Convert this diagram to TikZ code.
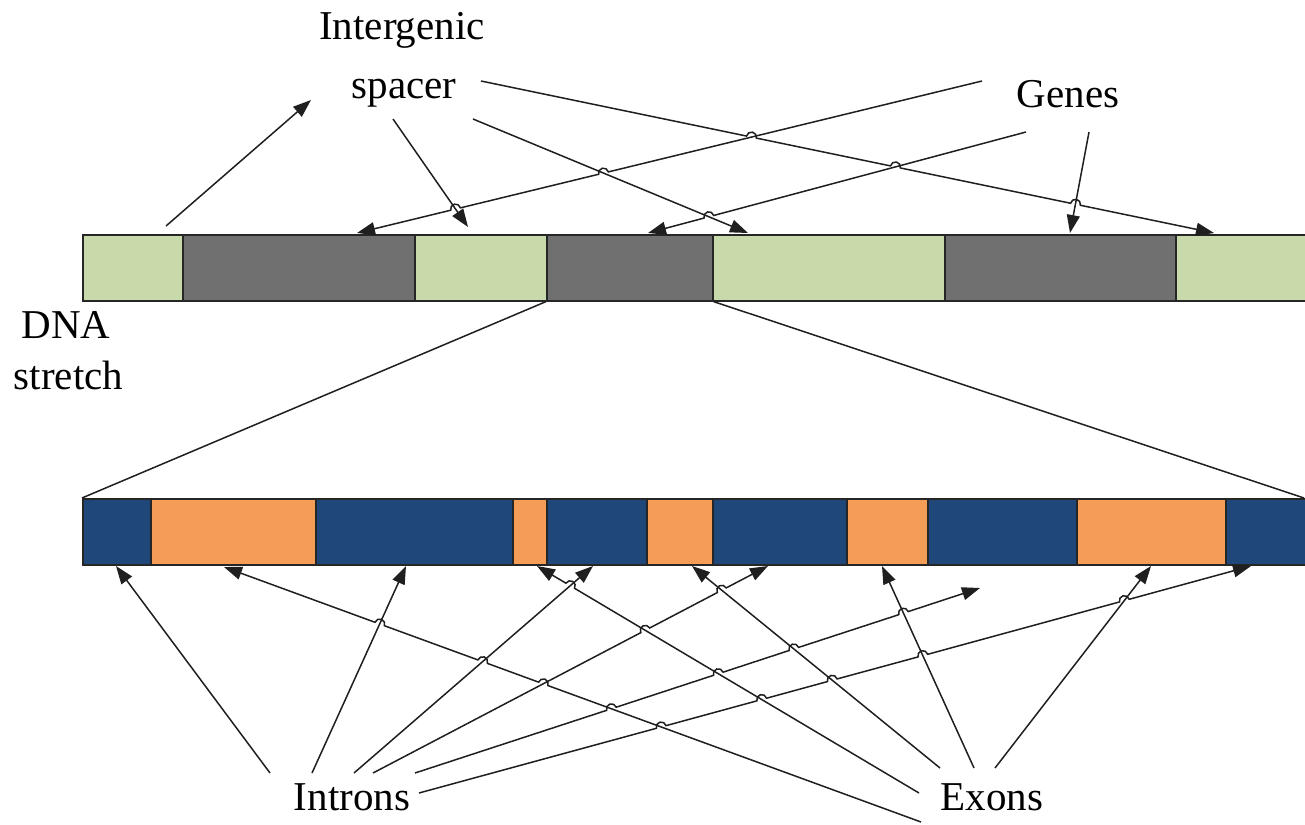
\documentclass[tikz,border=0pt]{standalone}
\usepackage{fontspec}
\setmainfont{Liberation Serif}
\usetikzlibrary{calc,arrows.meta}
\definecolor{lgreen}{RGB}{200,218,170}
\definecolor{dgray}{RGB}{112,112,112}
\definecolor{dblue}{RGB}{31,71,122}
\definecolor{lorange}{RGB}{243,157,87}
\def\hr{5pt}
\begin{document}
\begin{tikzpicture}[x=1pt,y=1pt,
  lbl/.style={font=\fontsize{41}{48}\selectfont, inner sep=0pt, anchor=base},
  seg/.style={draw=black!85, line width=1.6pt, inner sep=0pt, minimum height=66pt, anchor=north west},
  conn/.style={line width=1.5pt, draw=black!88},
  tip/.style={-{Triangle[length=18pt,width=13pt]}},
  rtip/.style={{Triangle[length=18pt,width=13pt]}-}]
\useasboundingbox (0,0) rectangle (1305,-824);

% ---------- top bar ----------
\node[seg, fill=lgreen, minimum width=100pt] (t1) at (82,-234) {};
\node[seg, fill=dgray,  minimum width=232pt] (t2) at (182,-234) {};
\node[seg, fill=lgreen, minimum width=132pt] (t3) at (414,-234) {};
\node[seg, fill=dgray,  minimum width=166pt] (t4) at (546,-234) {};
\node[seg, fill=lgreen, minimum width=232pt] (t5) at (712,-234) {};
\node[seg, fill=dgray,  minimum width=231pt] (t6) at (944,-234) {};
\node[seg, fill=lgreen, minimum width=132pt] (t7) at (1175,-234) {};

% ---------- bottom bar ----------
\node[seg, fill=dblue,   minimum width=68pt]  (b1)  at (82,-498) {};
\node[seg, fill=lorange, minimum width=165pt] (b2)  at (150,-498) {};
\node[seg, fill=dblue,   minimum width=197pt] (b3)  at (315,-498) {};
\node[seg, fill=lorange, minimum width=34pt]  (b4)  at (512,-498) {};
\node[seg, fill=dblue,   minimum width=100pt] (b5)  at (546,-498) {};
\node[seg, fill=lorange, minimum width=66pt]  (b6)  at (646,-498) {};
\node[seg, fill=dblue,   minimum width=134pt] (b7)  at (712,-498) {};
\node[seg, fill=lorange, minimum width=81pt]  (b8)  at (846,-498) {};
\node[seg, fill=dblue,   minimum width=149pt] (b9)  at (927,-498) {};
\node[seg, fill=lorange, minimum width=149pt] (b10) at (1076,-498) {};
\node[seg, fill=dblue,   minimum width=82pt]  (b11) at (1225,-498) {};

% zoom lines
\coordinate (zr) at (1304,-498);
\draw[conn] (t4.south west) -- (b1.north west);
\draw[conn] (t4.south east) -- (zr);

% ---------- labels ----------
\node[lbl] (intergenic) at (402,-40) {Intergenic};
\node[lbl] (spacer) at (404,-99) {spacer};
\node[lbl] (genes) at (1068,-108) {Genes};
\node[lbl] (dna) at (66,-338) {DNA};
\node[lbl] (stretch) at (68.5,-389) {stretch};
\node[lbl] (introns) at (352,-810) {Introns};
\node[lbl] (exons) at (992,-810) {Exons};

% ---------- top connectors ----------
\coordinate (a1s) at (166,-226);  \coordinate (a1t) at (311,-100);
\coordinate (a2s) at (393,-119);  \coordinate (a2t) at (468,-227);
\coordinate (a3s) at (473,-119);  \coordinate (a3t) at (748,-233);
\coordinate (a4s) at (481,-81);   \coordinate (a4t) at (1214,-233);
\coordinate (g1s) at (982,-81);   \coordinate (g1t) at (357,-233);
\coordinate (g2s) at (1026,-132); \coordinate (g2t) at (648,-233);
\coordinate (g3s) at (1089,-132); \coordinate (g3t) at (1070,-233);

\coordinate (h1) at (intersection of g1s--g1t and a2s--a2t);
\coordinate (h2) at (intersection of g1s--g1t and a3s--a3t);
\coordinate (h3) at (intersection of a4s--a4t and g1s--g1t);
\coordinate (h4) at (intersection of a4s--a4t and g2s--g2t);
\coordinate (h5) at (intersection of a4s--a4t and g3s--g3t);
\coordinate (h6) at (intersection of g2s--g2t and a3s--a3t);

\draw[conn, tip] (a1s) -- (a1t);
\draw[conn, tip] (a2s) -- (a2t);
\draw[conn, tip] (a3s) -- (a3t);
\draw[conn, tip] let \p1=($(a4t)-(a4s)$), \n1={atan2(\y1,\x1)} in
  (a4s) -- ($(h3)!\hr!(a4s)$) arc[start angle=\n1+180, end angle=\n1, radius=\hr]
        -- ($(h4)!\hr!(a4s)$) arc[start angle=\n1+180, end angle=\n1, radius=\hr]
        -- ($(h5)!\hr!(a4s)$) arc[start angle=\n1+180, end angle=\n1, radius=\hr]
        -- (a4t);
\draw[conn, rtip] let \p1=($(g1s)-(g1t)$), \n1={atan2(\y1,\x1)} in
  (g1t) -- ($(h1)!\hr!(g1t)$) arc[start angle=\n1+180, end angle=\n1, radius=\hr]
        -- ($(h2)!\hr!(g1t)$) arc[start angle=\n1+180, end angle=\n1, radius=\hr]
        -- (g1s);
\draw[conn, rtip] let \p1=($(g2s)-(g2t)$), \n1={atan2(\y1,\x1)} in
  (g2t) -- ($(h6)!\hr!(g2t)$) arc[start angle=\n1+180, end angle=\n1, radius=\hr]
        -- (g2s);
\draw[conn, tip] (g3s) -- (g3t);

% ---------- bottom connectors ----------
\coordinate (i1s) at (270,-773); \coordinate (i1t) at (116,-566);
\coordinate (i2s) at (312,-773); \coordinate (i2t) at (406,-566);
\coordinate (i3s) at (354,-773); \coordinate (i3t) at (593,-566);
\coordinate (i4s) at (373,-773); \coordinate (i4t) at (768,-566);
\coordinate (i5s) at (415,-773); \coordinate (i5t) at (980,-588);
\coordinate (i6s) at (419,-793); \coordinate (i6t) at (1251,-566);
\coordinate (e1s) at (921,-822); \coordinate (e1t) at (224,-567);
\coordinate (e2s) at (919,-793); \coordinate (e2t) at (537,-566);
\coordinate (e3s) at (940,-768); \coordinate (e3t) at (692,-566);
\coordinate (e4s) at (974,-768); \coordinate (e4t) at (882,-566);
\coordinate (e5s) at (995,-768); \coordinate (e5t) at (1151,-566);

% hops on e1
\coordinate (x12) at (intersection of e1s--e1t and i2s--i2t);
\coordinate (x13) at (intersection of e1s--e1t and i3s--i3t);
\coordinate (x14) at (intersection of e1s--e1t and i4s--i4t);
% hop on e2
\coordinate (x23) at (intersection of e2s--e2t and i3s--i3t);
% hops on i4
\coordinate (x42) at (intersection of i4s--i4t and e2s--e2t);
\coordinate (x43) at (intersection of i4s--i4t and e3s--e3t);
% hops on i5
\coordinate (x51) at (intersection of i5s--i5t and e1s--e1t);
\coordinate (x52) at (intersection of i5s--i5t and e2s--e2t);
\coordinate (x53) at (intersection of i5s--i5t and e3s--e3t);
\coordinate (x54) at (intersection of i5s--i5t and e4s--e4t);
% hops on i6
\coordinate (x61) at (intersection of i6s--i6t and e1s--e1t);
\coordinate (x62) at (intersection of i6s--i6t and e2s--e2t);
\coordinate (x63) at (intersection of i6s--i6t and e3s--e3t);
\coordinate (x64) at (intersection of i6s--i6t and e4s--e4t);
\coordinate (x65) at (intersection of i6s--i6t and e5s--e5t);

\draw[conn, tip] (i1s) -- (i1t);
\draw[conn, tip] (i2s) -- (i2t);
\draw[conn, tip] (i3s) -- (i3t);
\draw[conn, tip] let \p1=($(i4t)-(i4s)$), \n1={atan2(\y1,\x1)} in
  (i4s) -- ($(x42)!\hr!(i4s)$) arc[start angle=\n1+180, end angle=\n1, radius=\hr]
        -- ($(x43)!\hr!(i4s)$) arc[start angle=\n1+180, end angle=\n1, radius=\hr]
        -- (i4t);
\draw[conn, tip] let \p1=($(i5t)-(i5s)$), \n1={atan2(\y1,\x1)} in
  (i5s) -- ($(x51)!\hr!(i5s)$) arc[start angle=\n1+180, end angle=\n1, radius=\hr]
        -- ($(x52)!\hr!(i5s)$) arc[start angle=\n1+180, end angle=\n1, radius=\hr]
        -- ($(x53)!\hr!(i5s)$) arc[start angle=\n1+180, end angle=\n1, radius=\hr]
        -- ($(x54)!\hr!(i5s)$) arc[start angle=\n1+180, end angle=\n1, radius=\hr]
        -- (i5t);
\draw[conn, tip] let \p1=($(i6t)-(i6s)$), \n1={atan2(\y1,\x1)} in
  (i6s) -- ($(x61)!\hr!(i6s)$) arc[start angle=\n1+180, end angle=\n1, radius=\hr]
        -- ($(x62)!\hr!(i6s)$) arc[start angle=\n1+180, end angle=\n1, radius=\hr]
        -- ($(x63)!\hr!(i6s)$) arc[start angle=\n1+180, end angle=\n1, radius=\hr]
        -- ($(x64)!\hr!(i6s)$) arc[start angle=\n1+180, end angle=\n1, radius=\hr]
        -- ($(x65)!\hr!(i6s)$) arc[start angle=\n1+180, end angle=\n1, radius=\hr]
        -- (i6t);
\draw[conn, rtip] let \p1=($(e1s)-(e1t)$), \n1={atan2(\y1,\x1)} in
  (e1t) -- ($(x12)!\hr!(e1t)$) arc[start angle=\n1+180, end angle=\n1, radius=\hr]
        -- ($(x13)!\hr!(e1t)$) arc[start angle=\n1+180, end angle=\n1, radius=\hr]
        -- ($(x14)!\hr!(e1t)$) arc[start angle=\n1+180, end angle=\n1, radius=\hr]
        -- (e1s);
\draw[conn, rtip] let \p1=($(e2s)-(e2t)$), \n1={atan2(\y1,\x1)} in
  (e2t) -- ($(x23)!\hr!(e2t)$) arc[start angle=\n1+180, end angle=\n1, radius=\hr]
        -- (e2s);
\draw[conn, tip] (e3s) -- (e3t);
\draw[conn, tip] (e4s) -- (e4t);
\draw[conn, tip] (e5s) -- (e5t);
\end{tikzpicture}
\end{document}
